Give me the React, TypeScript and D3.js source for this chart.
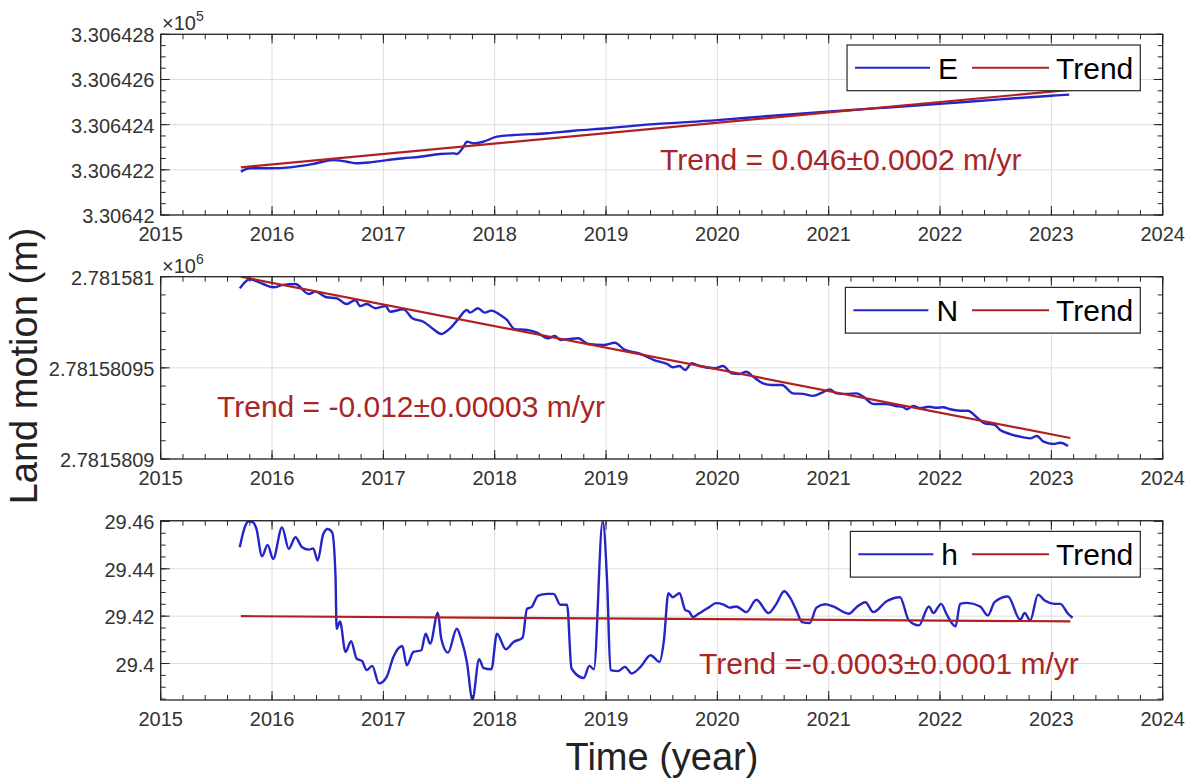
import * as d3 from "d3";

// ---------- data ----------
const xDomain: [number, number] = [2015, 2024];
const yearTicks = [2015, 2016, 2017, 2018, 2019, 2020, 2021, 2022, 2023, 2024];

// East component (m)
const eData: [number, number][] = [
  [2015.72, 330642.192], [2015.8, 330642.207], [2015.98, 330642.207], [2016.16, 330642.211],
  [2016.37, 330642.226], [2016.55, 330642.243], [2016.67, 330642.236], [2016.76, 330642.229],
  [2016.88, 330642.233], [2017.03, 330642.243], [2017.18, 330642.251], [2017.33, 330642.258],
  [2017.51, 330642.27], [2017.63, 330642.273], [2017.66, 330642.27], [2017.72, 330642.302],
  [2017.75, 330642.325], [2017.81, 330642.317], [2017.9, 330642.325], [2018.02, 330642.347],
  [2018.17, 330642.354], [2018.47, 330642.362], [2018.71, 330642.373], [2019.01, 330642.384],
  [2019.4, 330642.401], [2020.0, 330642.42], [2020.5, 330642.44], [2021.01, 330642.458],
  [2021.5, 330642.475], [2022.0, 330642.492], [2022.54, 330642.512], [2023.0, 330642.528],
  [2023.16, 330642.533],
];
const eTrend: [number, number][] = [[2015.72, 330642.211], [2023.17, 330642.554]];
const eTicks = [330642.0, 330642.2, 330642.4, 330642.6, 330642.8];
const eTickLabels = ["3.30642", "3.306422", "3.306424", "3.306426", "3.306428"];

// North component (m)
const nData: [number, number][] = [
  [2015.71, 2781580.9936], [2015.8, 2781580.9986], [2015.92, 2781580.996], [2016.01, 2781580.9942],
  [2016.1, 2781580.9955], [2016.21, 2781580.996], [2016.33, 2781580.9905], [2016.39, 2781580.9918],
  [2016.49, 2781580.9887], [2016.58, 2781580.9882], [2016.67, 2781580.985], [2016.75, 2781580.9872],
  [2016.79, 2781580.9839], [2016.85, 2781580.985], [2016.93, 2781580.9827], [2017.02, 2781580.9839],
  [2017.06, 2781580.9808], [2017.18, 2781580.9821], [2017.26, 2781580.9772], [2017.36, 2781580.9753],
  [2017.45, 2781580.9712], [2017.52, 2781580.9686], [2017.6, 2781580.9717], [2017.67, 2781580.9766],
  [2017.75, 2781580.9817], [2017.78, 2781580.9803], [2017.85, 2781580.9827], [2017.91, 2781580.9803],
  [2017.97, 2781580.9814], [2018.05, 2781580.979], [2018.11, 2781580.9763], [2018.18, 2781580.9712],
  [2018.29, 2781580.9708], [2018.38, 2781580.9693], [2018.48, 2781580.9662], [2018.54, 2781580.9675],
  [2018.59, 2781580.9653], [2018.65, 2781580.9657], [2018.75, 2781580.9662], [2018.84, 2781580.9631],
  [2018.98, 2781580.9625], [2019.08, 2781580.9638], [2019.16, 2781580.9602], [2019.31, 2781580.9576],
  [2019.43, 2781580.9543], [2019.55, 2781580.9521], [2019.6, 2781580.9503], [2019.66, 2781580.951],
  [2019.71, 2781580.9488], [2019.77, 2781580.9525], [2019.84, 2781580.951], [2019.98, 2781580.9498],
  [2020.05, 2781580.951], [2020.13, 2781580.947], [2020.2, 2781580.9466], [2020.26, 2781580.9479],
  [2020.32, 2781580.9452], [2020.41, 2781580.9415], [2020.49, 2781580.9406], [2020.58, 2781580.9406],
  [2020.68, 2781580.936], [2020.77, 2781580.9357], [2020.86, 2781580.9346], [2020.94, 2781580.9364],
  [2021.01, 2781580.9382], [2021.07, 2781580.936], [2021.16, 2781580.9357], [2021.25, 2781580.936],
  [2021.31, 2781580.9342], [2021.4, 2781580.9302], [2021.52, 2781580.9302], [2021.6, 2781580.9291],
  [2021.67, 2781580.9284], [2021.7, 2781580.9273], [2021.76, 2781580.9291], [2021.82, 2781580.9278],
  [2021.9, 2781580.9287], [2021.97, 2781580.9281], [2022.03, 2781580.9284], [2022.09, 2781580.9273],
  [2022.18, 2781580.9265], [2022.25, 2781580.9265], [2022.33, 2781580.9229], [2022.4, 2781580.9196],
  [2022.49, 2781580.9187], [2022.54, 2781580.9159], [2022.63, 2781580.9137], [2022.75, 2781580.9119],
  [2022.81, 2781580.9113], [2022.87, 2781580.9126], [2022.93, 2781580.9095], [2023.02, 2781580.9082],
  [2023.08, 2781580.9089], [2023.15, 2781580.9071],
];
const nTrend: [number, number][] = [[2015.72, 2781581.0], [2023.17, 2781580.9115]];
const nTicks = [2781580.9, 2781580.95, 2781581.0];
const nTickLabels = ["2.7815809", "2.78158095", "2.781581"];

// Height component (m)
const hData: [number, number][] = [
  [2015.71, 29.4491], [2015.76, 29.4582], [2015.79, 29.46], [2015.83, 29.4596], [2015.86, 29.4568],
  [2015.91, 29.4453], [2015.96, 29.4501], [2016.01, 29.4442], [2016.09, 29.4575], [2016.15, 29.4484],
  [2016.21, 29.4533], [2016.27, 29.4491], [2016.33, 29.4481], [2016.37, 29.4486], [2016.41, 29.4435],
  [2016.46, 29.4547], [2016.5, 29.4568], [2016.54, 29.4554], [2016.57, 29.4371], [2016.58, 29.4147],
  [2016.61, 29.4178], [2016.66, 29.4049], [2016.71, 29.4094], [2016.76, 29.4021], [2016.81, 29.401],
  [2016.85, 29.3972], [2016.9, 29.399], [2016.96, 29.3916], [2017.03, 29.3944], [2017.09, 29.4028],
  [2017.17, 29.4074], [2017.21, 29.3993], [2017.27, 29.4049], [2017.34, 29.4056], [2017.38, 29.4126],
  [2017.42, 29.4084], [2017.49, 29.4215], [2017.52, 29.4105], [2017.58, 29.4046], [2017.66, 29.4147],
  [2017.7, 29.4102], [2017.75, 29.4007], [2017.8, 29.3848], [2017.86, 29.4018], [2017.9, 29.3981],
  [2017.97, 29.3976], [2018.02, 29.4126], [2018.1, 29.406], [2018.17, 29.4091], [2018.25, 29.4108],
  [2018.29, 29.4231], [2018.33, 29.4238], [2018.39, 29.4287], [2018.47, 29.4294], [2018.53, 29.4294],
  [2018.59, 29.4248], [2018.65, 29.4248], [2018.69, 29.3979], [2018.8, 29.3939], [2018.85, 29.399],
  [2018.89, 29.3976], [2018.97, 29.4601], [2019.01, 29.4343], [2019.04, 29.3972], [2019.11, 29.3968],
  [2019.17, 29.3986], [2019.23, 29.3958], [2019.31, 29.3986], [2019.4, 29.4035], [2019.48, 29.4007],
  [2019.52, 29.4098], [2019.56, 29.4297], [2019.6, 29.428], [2019.66, 29.4297], [2019.71, 29.4227],
  [2019.75, 29.4217], [2019.78, 29.4196], [2019.83, 29.421], [2019.92, 29.4236], [2019.99, 29.4255],
  [2020.05, 29.425], [2020.11, 29.4236], [2020.17, 29.4241], [2020.26, 29.4217], [2020.35, 29.4269],
  [2020.46, 29.4213], [2020.53, 29.4252], [2020.6, 29.4305], [2020.65, 29.428], [2020.71, 29.4224],
  [2020.76, 29.4175], [2020.83, 29.4171], [2020.89, 29.4236], [2020.97, 29.425], [2021.04, 29.4241],
  [2021.18, 29.421], [2021.25, 29.4238], [2021.33, 29.4259], [2021.4, 29.4217], [2021.52, 29.4263],
  [2021.64, 29.428], [2021.72, 29.4182], [2021.81, 29.4161], [2021.9, 29.4241], [2021.94, 29.4213],
  [2022.01, 29.4252], [2022.06, 29.4207], [2022.14, 29.4157], [2022.18, 29.4252], [2022.24, 29.4256],
  [2022.36, 29.4241], [2022.43, 29.4203], [2022.49, 29.4259], [2022.61, 29.4283], [2022.72, 29.4185],
  [2022.76, 29.4213], [2022.81, 29.4182], [2022.88, 29.4291], [2022.94, 29.4266], [2023.03, 29.4252],
  [2023.08, 29.4252], [2023.15, 29.421], [2023.19, 29.4193],
];
const hTrend: [number, number][] = [[2015.72, 29.42], [2023.17, 29.4178]];
const hTicks = [29.4, 29.42, 29.44, 29.46];
const hTickLabels = ["29.4", "29.42", "29.44", "29.46"];

// ---------- styling / layout ----------
const FONT = "'Liberation Sans', Arial, Helvetica, sans-serif";
const LEFT = 160.7;
const RIGHT = 1162.7;
const BLUE = "#2424C8";
const RED = "#B02020";
const TEXT_RED = "#A82626";
const AXIS = "#262626";
const GRID = "#dedede";

const panels = [
  {
    id: "E", top: 34.3, bottom: 215, domain: [330642.0, 330642.8] as [number, number],
    data: eData, trend: eTrend, ticks: eTicks, labels: eTickLabels, minor: 0.05, exp: "5",
    note: "Trend = 0.046±0.0002 m/yr", noteX: 660, noteY: 170,
  },
  {
    id: "N", top: 276.7, bottom: 459, domain: [2781580.9, 2781581.0] as [number, number],
    data: nData, trend: nTrend, ticks: nTicks, labels: nTickLabels, minor: 0.01, exp: "6",
    note: "Trend = -0.012±0.00003 m/yr", noteX: 217, noteY: 417,
  },
  {
    id: "h", top: 520.7, bottom: 700, domain: [29.3846, 29.4603] as [number, number],
    data: hData, trend: hTrend, ticks: hTicks, labels: hTickLabels, minor: 0.005, exp: null,
    note: "Trend =-0.0003±0.0001 m/yr", noteX: 699, noteY: 674,
  },
];

function textWidth(s: string, size: number) {
  const ctx = document.createElement("canvas").getContext("2d");
  if (!ctx) return s.length * size * 0.6;
  ctx.font = `${size}px 'Liberation Sans', Arial, sans-serif`;
  return ctx.measureText(s).width;
}

function Legend({ label, top }: { label: string; top: number }) {
  const right = 1140.3;
  const h = 45.7;
  const trendW = textWidth("Trend", 30);
  const labW = textWidth(label, 30);
  const trendX = right - 7 - trendW;
  const redX1 = trendX - 7;
  const redX0 = redX1 - 77;
  const labX = redX0 - 14 - labW;
  const blueX1 = labX - 8;
  const blueX0 = blueX1 - 75;
  const left = blueX0 - 8;
  const cy = top + h / 2;
  return (
    <g>
      <rect x={left} y={top} width={right - left} height={h} fill="white" stroke={AXIS} strokeWidth={1.2} />
      <line x1={blueX0} x2={blueX1} y1={cy} y2={cy} stroke={BLUE} strokeWidth={2} />
      <text x={labX} y={cy + 10.8} fontSize={30} fill="#000">{label}</text>
      <line x1={redX0} x2={redX1} y1={cy} y2={cy} stroke={RED} strokeWidth={2} />
      <text x={trendX} y={cy + 10.8} fontSize={30} fill="#000">Trend</text>
    </g>
  );
}

function Panel({ p }: { p: (typeof panels)[number] }) {
  const x = d3.scaleLinear().domain(xDomain).range([LEFT, RIGHT]);
  const y = d3.scaleLinear().domain(p.domain).range([p.bottom, p.top]);
  const line = d3
    .line<[number, number]>()
    .x((d) => x(d[0]))
    .y((d) => y(d[1]))
    .curve(d3.curveMonotoneX);
  const straight = d3
    .line<[number, number]>()
    .x((d) => x(d[0]))
    .y((d) => y(d[1]));

  const xMinor = d3.range(0, 46).map((i) => xDomain[0] + i * 0.2);
  const n0 = Math.ceil(p.domain[0] / p.minor - 1e-6);
  const n1 = Math.floor(p.domain[1] / p.minor + 1e-6);
  const yMinor = d3.range(n0, n1 + 1).map((i) => i * p.minor);
  const clipId = `clip-${p.id}`;
  const major = 9;
  const minorLen = 5;

  return (
    <g>
      <defs>
        <clipPath id={clipId}>
          <rect x={LEFT} y={p.top} width={RIGHT - LEFT} height={p.bottom - p.top} />
        </clipPath>
      </defs>
      {/* grid */}
      {yearTicks.map((t) => (
        <line key={`gx${t}`} x1={x(t)} x2={x(t)} y1={p.top} y2={p.bottom} stroke={GRID} strokeWidth={1} />
      ))}
      {p.ticks.map((t) => (
        <line key={`gy${t}`} x1={LEFT} x2={RIGHT} y1={y(t)} y2={y(t)} stroke={GRID} strokeWidth={1} />
      ))}
      {/* series */}
      <g clipPath={`url(#${clipId})`}>
        <path d={line(p.data) ?? ""} fill="none" stroke={BLUE} strokeWidth={2.4} strokeLinejoin="round" />
        <path d={straight(p.trend) ?? ""} fill="none" stroke={RED} strokeWidth={2.2} />
      </g>
      <text x={p.noteX} y={p.noteY} fontSize={30} fill={TEXT_RED}>{p.note}</text>
      {/* ticks */}
      {xMinor.map((t, i) => (
        <g key={`xm${i}`}>
          <line x1={x(t)} x2={x(t)} y1={p.bottom} y2={p.bottom - minorLen} stroke={AXIS} />
          <line x1={x(t)} x2={x(t)} y1={p.top} y2={p.top + minorLen} stroke={AXIS} />
        </g>
      ))}
      {yearTicks.map((t) => (
        <g key={`xt${t}`}>
          <line x1={x(t)} x2={x(t)} y1={p.bottom} y2={p.bottom - major} stroke={AXIS} />
          <line x1={x(t)} x2={x(t)} y1={p.top} y2={p.top + major} stroke={AXIS} />
          <text x={x(t)} y={p.bottom + 25.5} fontSize={20} fill="#333" textAnchor="middle">{t}</text>
        </g>
      ))}
      {yMinor.map((t, i) => (
        <g key={`ym${i}`}>
          <line x1={LEFT} x2={LEFT + minorLen} y1={y(t)} y2={y(t)} stroke={AXIS} />
          <line x1={RIGHT} x2={RIGHT - minorLen} y1={y(t)} y2={y(t)} stroke={AXIS} />
        </g>
      ))}
      {p.ticks.map((t, i) => (
        <g key={`yt${t}`}>
          <line x1={LEFT} x2={LEFT + major} y1={y(t)} y2={y(t)} stroke={AXIS} />
          <line x1={RIGHT} x2={RIGHT - major} y1={y(t)} y2={y(t)} stroke={AXIS} />
          <text x={154.5} y={y(t) + 8} fontSize={20} fill="#333" textAnchor="end">{p.labels[i]}</text>
        </g>
      ))}
      <rect x={LEFT} y={p.top} width={RIGHT - LEFT} height={p.bottom - p.top} fill="none" stroke={AXIS} strokeWidth={1.3} />
      {p.exp && (
        <text x={162} y={p.top - 4} fontSize={20} fill="#333">
          ×10<tspan fontSize={14} dy={-9}>{p.exp}</tspan>
        </text>
      )}
      <Legend label={p.id} top={p.top + 10.7} />
    </g>
  );
}

export default function App() {
  return (
    <svg
      width={1191}
      height={780}
      viewBox="0 0 1191 780"
      style={{ position: "absolute", left: 0, top: 0, background: "white" }}
      fontFamily={FONT}
    >
      <rect x={0} y={0} width={1191} height={780} fill="white" />
      {panels.map((p) => (
        <Panel key={p.id} p={p} />
      ))}
      <text transform="translate(37,366) rotate(-90)" fontSize={38} fill="#222" textAnchor="middle">
        Land motion (m)
      </text>
      <text x={662} y={770} fontSize={38} fill="#222" textAnchor="middle">
        Time (year)
      </text>
    </svg>
  );
}
